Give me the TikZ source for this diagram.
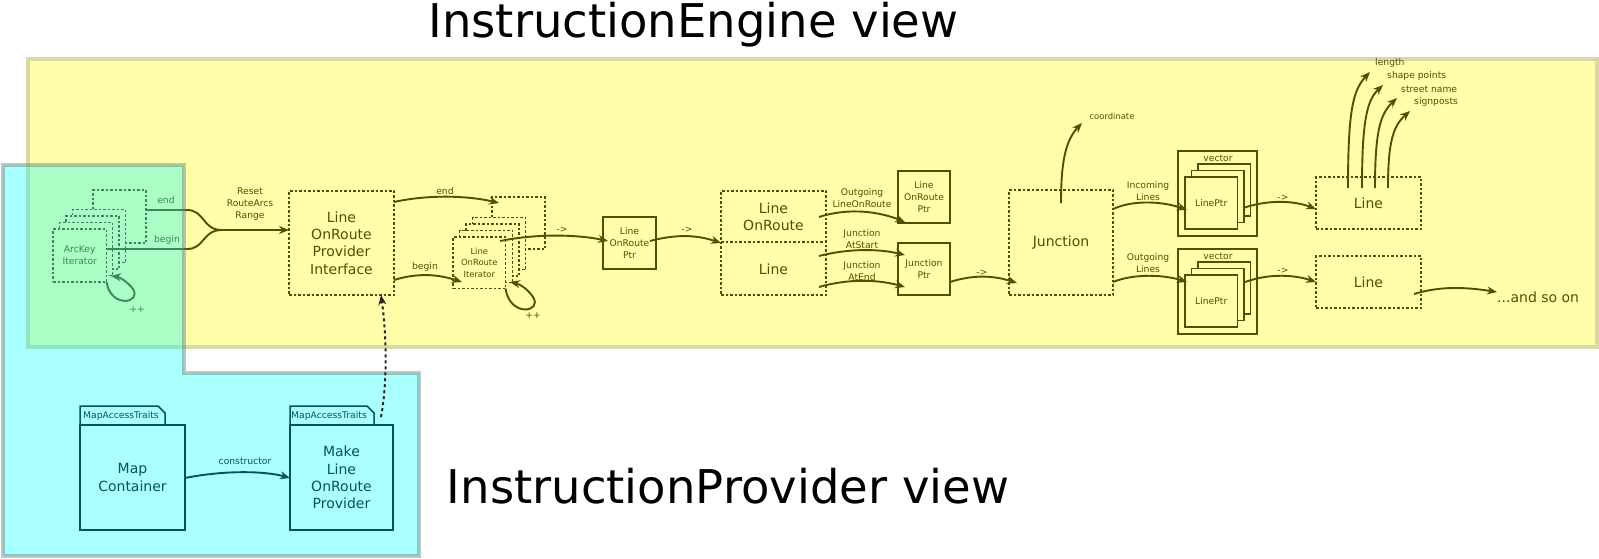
\documentclass[tikz,border=0pt]{standalone}
\usepackage{fontspec}
\setmainfont{DejaVu Sans}
\usetikzlibrary{arrows.meta,calc}
\definecolor{ylw}{RGB}{255,255,170}
\definecolor{ylwb}{RGB}{216,216,168}
\definecolor{olv}{RGB}{80,80,0}
\definecolor{tl}{RGB}{0,85,85}
\definecolor{cyn}{RGB}{0,255,255}
\definecolor{cyb}{RGB}{100,130,130}
\tikzset{
 big/.style={font=\fontsize{14}{17.4}\selectfont, align=center},
 sml/.style={font=\fontsize{9.2}{11.6}\selectfont, align=center},
 tiny/.style={font=\fontsize{8.4}{11.3}\selectfont, align=center},
 dbox/.style={draw=olv, line width=1.3pt, dash pattern=on 2.5pt off 2pt, inner sep=0pt, outer sep=0pt, text=olv},
 sbox/.style={draw=olv, line width=1.5pt, inner sep=0pt, outer sep=0pt, text=olv},
 tbox/.style={draw=tl, line width=1.5pt, inner sep=0pt, outer sep=0pt, text=tl},
 tip/.style={-{Stealth[length=10pt,width=8pt,inset=3.3pt]}},
 conn/.style={draw=olv, line width=1.9pt, tip},
 tconn/.style={draw=tl, line width=1.9pt, tip},
 lbl/.style={text=olv, inner sep=0pt},
 tlbl/.style={text=tl, inner sep=0pt},
 title/.style={font=\fontsize{46.5}{50}\selectfont, text=black, inner sep=0pt, anchor=base},
}
\begin{document}
\begin{tikzpicture}[x=1pt,y=-1pt]
\useasboundingbox (0,0) rectangle (1599,558);
% yellow region
\path[fill=ylw, draw=ylwb, line width=3.5pt] (28,59) rectangle (1597,347);

% ArcKey iterator stack
\node[dbox, fill=ylw, minimum width=53pt, minimum height=53pt, anchor=north west] (ak4) at (93,190) {};
\node[dbox, fill=ylw, minimum width=53pt, minimum height=53pt, anchor=north west] (ak3) at (72.5,209.5) {};
\node[dbox, fill=ylw, minimum width=53pt, minimum height=53pt, anchor=north west] (ak2) at (66,216) {};
\node[dbox, fill=ylw, minimum width=53pt, minimum height=53pt, anchor=north west] (ak1) at (59.5,222.5) {};
\node[dbox, fill=ylw, minimum width=53.5pt, minimum height=53pt, anchor=north west, sml] (ak0) at (53,229) {ArcKey\\Iterator};

\node[lbl, sml] (lend1) at (166,200) {end};
\node[lbl, sml] (lbeg1) at (167,240) {begin};
\node[lbl, sml] (lreset) at (250,204) {Reset\\RouteArcs\\Range};

% Provider interface
\node[dbox, big, minimum width=105pt, minimum height=104pt] (pif) at (341.5,243) {Line\\OnRoute\\Provider\\Interface};

\coordinate (merge) at (222,230);
\draw[olv, line width=1.9pt] (ak0.east |- 0,249) -- (187,249) .. controls (205,249) and (202,230) .. (merge);
\draw[conn] (ak4.east |- 0,210) -- (187,210) .. controls (205,210) and (202,230) .. (merge) -- (pif.west |- 0,230);
\draw[conn] (ak0.south east) .. controls (111,309) and (142,303) .. (133,289) .. controls (127,281) and (119,277) .. (111,276);
\node[lbl, sml] (pp1) at (137,310) {++};

% LineOnRoute iterator stack
\node[dbox, fill=ylw, minimum width=53pt, minimum height=52pt, anchor=north west] (li4) at (492,197) {};
\node[dbox, fill=ylw, minimum width=53pt, minimum height=52pt, anchor=north west] (li3) at (472.5,217.5) {};
\node[dbox, fill=ylw, minimum width=53pt, minimum height=52pt, anchor=north west] (li2) at (466,224) {};
\node[dbox, fill=ylw, minimum width=53pt, minimum height=52pt, anchor=north west] (li1) at (459.5,230.5) {};
\node[dbox, fill=ylw, minimum width=52.5pt, minimum height=51.5pt, anchor=north west, tiny] (li0) at (453,237) {Line\\OnRoute\\Iterator};

\draw[conn] (pif.east |- 0,202) .. controls (430,194) and (470,196) .. (499,203);
\node[lbl, sml] (lend2) at (445,191) {end};
\draw[conn] (pif.east |- 0,280) .. controls (420,272) and (440,275) .. (462,282);
\node[lbl, sml] (lbeg2) at (425,267) {begin};
\draw[conn] (li0.south east) .. controls (510,318) and (543,312) .. (533,297) .. controls (527,288) and (519,284) .. (510,282);
\node[lbl, sml] (pp2) at (533,316) {++};

% LineOnRoute Ptr
\node[sbox, sml, minimum width=53pt, minimum height=52pt] (lp1) at (629.5,243) {Line\\OnRoute\\Ptr};
\draw[conn] (500,241) .. controls (540,233) and (580,235) .. (608,241);
\node[lbl, sml] (a1) at (562,230) {->};

% LineOnRoute / Line
\node[dbox, minimum width=105pt, minimum height=104pt] (lor) at (773.5,243) {};
\draw[olv, line width=1.3pt, dash pattern=on 2.5pt off 2pt] (lor.west |- 0,242) -- (lor.east |- 0,242);
\node[lbl, big] (lorA) at (773.5,217) {Line\\OnRoute};
\node[lbl, big] (lorB) at (773.5,269) {Line};
\draw[conn] (650,241) .. controls (680,233) and (700,236) .. (lor.west |- 0,243);
\node[lbl, sml] (a2) at (687,230) {->};

\node[sbox, sml, minimum width=52pt, minimum height=52pt] (lp2) at (924,197) {Line\\OnRoute\\Ptr};
\node[sbox, sml, minimum width=52pt, minimum height=52pt] (jp) at (924,269) {Junction\\Ptr};
\draw[conn] (819,217) .. controls (850,207) and (880,212) .. (905,222);
\node[lbl, sml] (l3) at (862,198) {Outgoing\\LineOnRoute};
\draw[conn] (819,256) .. controls (850,248) and (880,249) .. (905,255);
\node[lbl, sml] (l4) at (862,239) {Junction\\AtStart};
\draw[conn] (819,287) .. controls (850,278) and (880,280) .. (905,287);
\node[lbl, sml] (l5) at (862,271) {Junction\\AtEnd};

% Junction
\node[dbox, big, minimum width=104pt, minimum height=105pt] (jn) at (1061,242.5) {Junction};
\draw[conn] (jp.east |- 0,282) .. controls (975,274) and (995,276) .. (1017,283);
\node[lbl, sml] (a3) at (982,273) {->};
\draw[conn] (1061,203) .. controls (1061,160) and (1066,140) .. (1082,123);
\node[lbl, tiny] (lcoord) at (1112,116) {coordinate};

% vectors
\node[sbox, minimum width=79pt, minimum height=85pt] (v1) at (1217.5,193.5) {};
\node[lbl, sml] (v1l) at (1218,158) {vector};
\node[sbox, fill=ylw, minimum width=52.5pt, minimum height=52pt, anchor=north west] (v1c) at (1198,164) {};
\node[sbox, fill=ylw, minimum width=52.5pt, minimum height=52pt, anchor=north west] (v1b) at (1191.5,170.5) {};
\node[sbox, fill=ylw, minimum width=52.5pt, minimum height=52pt, anchor=north west, sml] (v1a) at (1185,177) {LinePtr};

\node[sbox, minimum width=79pt, minimum height=85pt] (v2) at (1217.5,291.5) {};
\node[lbl, sml] (v2l) at (1218,256) {vector};
\node[sbox, fill=ylw, minimum width=52.5pt, minimum height=52pt, anchor=north west] (v2c) at (1198,262) {};
\node[sbox, fill=ylw, minimum width=52.5pt, minimum height=52pt, anchor=north west] (v2b) at (1191.5,268.5) {};
\node[sbox, fill=ylw, minimum width=52.5pt, minimum height=52pt, anchor=north west, sml] (v2a) at (1185,275) {LinePtr};

\draw[conn] (jn.east |- 0,209) .. controls (1135,199) and (1165,202) .. (1187,210);
\node[lbl, sml] (l6) at (1148,191) {Incoming\\Lines};
\draw[conn] (jn.east |- 0,282) .. controls (1135,273) and (1165,275) .. (1187,282);
\node[lbl, sml] (l7) at (1148,263) {Outgoing\\Lines};

% Lines
\node[dbox, big, minimum width=105pt, minimum height=52pt] (ln1) at (1368.5,203) {Line};
\node[dbox, big, minimum width=105pt, minimum height=52pt] (ln2) at (1368.5,282) {Line};
\draw[conn] (1243,208) .. controls (1270,199) and (1295,201) .. (ln1.west |- 0,209);
\node[lbl, sml] (a4) at (1283,198) {->};
\draw[conn] (1245,282) .. controls (1270,273) and (1295,275) .. (ln2.west |- 0,282);
\node[lbl, sml] (a5) at (1283,271) {->};
\node[lbl, big, anchor=west] (soon) at (1497,297) {...and so on};
\draw[conn] (1414,294) .. controls (1440,286) and (1465,287) .. (soon.west |- 0,292);

\node[lbl, sml, anchor=west] (p1) at (1375,63) {length};
\node[lbl, sml, anchor=west] (p2) at (1387,76) {shape points};
\node[lbl, sml, anchor=west] (p3) at (1401,89) {street name};
\node[lbl, sml, anchor=west] (p4) at (1414,102) {signposts};
\draw[conn] (1348,188) .. controls (1348,110) and (1353,90) .. (1370,72);
\draw[conn] (1362,188) .. controls (1362,120) and (1367,100) .. (1383,85);
\draw[conn] (1375,188) .. controls (1375,132) and (1380,114) .. (1397,98);
\draw[conn] (1388,188) .. controls (1388,142) and (1393,126) .. (1410,111);

% cyan region
\path[fill=cyn, fill opacity=0.333, draw=cyb, draw opacity=0.45, line width=3.5pt]
  (3,165) -- (184,165) -- (184,373) -- (419,373) -- (419,556) -- (3,556) -- cycle;

% provider view content
\node[tbox, big, minimum width=105pt, minimum height=105pt] (mc) at (132.5,477.5) {Map\\Container};
\draw[tl, line width=1.5pt] (mc.north west) -- ++(0,-19) -- ++(78,0) -- ++(7,7) -- ++(0,12);
\node[tlbl, sml] (mat1) at (121,416) {MapAccessTraits};
\node[tbox, big, minimum width=103pt, minimum height=105pt] (mk) at (341.5,477.5) {Make\\Line\\OnRoute\\Provider};
\draw[tl, line width=1.5pt] (mk.north west) -- ++(0,-19) -- ++(77,0) -- ++(7,7) -- ++(0,12);
\node[tlbl, sml] (mat2) at (329,416) {MapAccessTraits};
\draw[tconn] (mc.east |- 0,478) .. controls (225,470) and (265,471) .. (mk.west |- 0,478);
\node[tlbl, sml] (lcons) at (245,461) {constructor};

\draw[black!85, line width=2pt, dash pattern=on 3pt off 3pt, tip] (381,417) .. controls (388,380) and (386,330) .. (pif.south -| 381,0);

% titles
\node[title] (t1) at (693.5,37.5) {InstructionEngine view};
\node[title] (t2) at (728,503) {InstructionProvider view};
\end{tikzpicture}
\end{document}
